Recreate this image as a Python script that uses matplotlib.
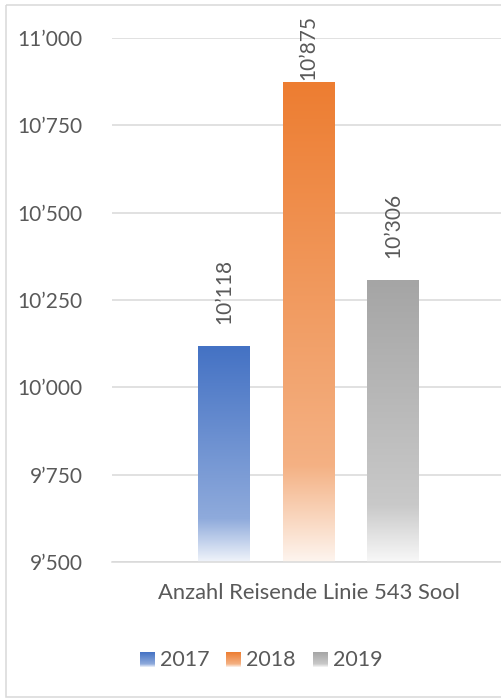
import numpy as np
import matplotlib
matplotlib.use("Agg")
import matplotlib.pyplot as plt
from matplotlib.colors import to_rgb
from matplotlib.patches import Rectangle
import matplotlib.transforms as mtransforms

# ---- data ----
category = "Anzahl Reisende Linie 543 Sool"
years = ["2017", "2018", "2019"]
values = [10118, 10875, 10306]
colors = ["#4472C4", "#ED7D31", "#A5A5A5"]
y_ticks = [9500, 9750, 10000, 10250, 10500, 10750, 11000]


def fmt(v):
    return f"{v:,}".replace(",", "\u2019")


plt.rcParams['font.family'] = ['Lato', 'DejaVu Sans']
TXT = '#595959'
GRID = '#d9d9d9'
FS = 15

W, H = 502, 698
fig = plt.figure(figsize=(W / 100, H / 100), dpi=100)
fig.patch.set_facecolor('white')


def gradient(color, n=256):
    base = np.array(to_rgb(color))
    white = np.ones(3)
    t = np.linspace(0, 1, n)
    c_bot = base + (white - base) * 0.92
    c_mid = base + (white - base) * 0.40
    out = np.zeros((n, 3))
    for i, ti in enumerate(t):
        if ti < 0.2:
            f = ti / 0.2
            out[i] = c_bot + (c_mid - c_bot) * f
        else:
            f = (ti - 0.2) / 0.8
            out[i] = c_mid + (base - c_mid) * f
    return out[:, None, :]


ax = fig.add_axes([112 / W, 1 - 562 / H, (505 - 112) / W, (562 - 38) / H])
ax.patch.set_visible(False)
ymin, ymax = y_ticks[0], y_ticks[-1]
pos = np.arange(len(values)) - 1.0
bw = 0.604
bars = ax.bar(pos, np.array(values) - ymin, bottom=ymin, width=bw,
              color='none', edgecolor='none', zorder=2)
for b, c in zip(bars, colors):
    x0, y0 = b.get_x(), b.get_y()
    im = ax.imshow(gradient(c), extent=[x0, x0 + b.get_width(), y0, y0 + b.get_height()],
                   origin='lower', aspect='auto', zorder=2, interpolation='bilinear')
    im.set_clip_path(b)

ax.set_xlim(-2.325, 2.325)
ax.set_ylim(ymin, ymax)
ax.set_yticks(y_ticks)
ax.set_yticklabels([fmt(v) for v in y_ticks])
ax.set_xticks([])
ax.yaxis.grid(True, color=GRID, lw=1.1)
ax.set_axisbelow(True)
for s in ['top', 'right', 'left']:
    ax.spines[s].set_visible(False)
ax.spines['bottom'].set_color(GRID)
ax.spines['bottom'].set_linewidth(1.1)
ax.tick_params(axis='y', length=0, pad=21, labelsize=FS, labelcolor=TXT)

LABEL_GAP = 63
LABEL_CEIL = 10880
for p, v in zip(pos, values):
    ax.text(p, min(v + LABEL_GAP, LABEL_CEIL), fmt(v), rotation=90,
            ha='center', va='bottom', fontsize=FS, color=TXT, clip_on=False)

trans = mtransforms.blended_transform_factory(ax.transData, fig.transFigure)
ax.text(0, 1 - 593 / H, category, transform=trans, ha='center', va='center',
        fontsize=15.8, color=TXT)

# overlay for border and legend
lax = fig.add_axes([0, 0, 1, 1], zorder=3)
lax.patch.set_visible(False)
lax.set_xlim(0, W)
lax.set_ylim(H, 0)
lax.axis('off')
lax.add_patch(Rectangle((6, 5), 600, 692, fc='none', ec=GRID, lw=1.1))
for i, (yr, c) in enumerate(zip(years, colors)):
    x0 = 140 + 86.5 * i
    lax.imshow(gradient(c), extent=[x0, x0 + 15, 667, 652], origin='lower',
               aspect='auto', interpolation='bilinear')
    lax.text(x0 + 20, 659.5, yr, ha='left', va='center', fontsize=15.5, color=TXT)
lax.set_xlim(0, W)
lax.set_ylim(H, 0)

fig.savefig('out.png', dpi=100)
